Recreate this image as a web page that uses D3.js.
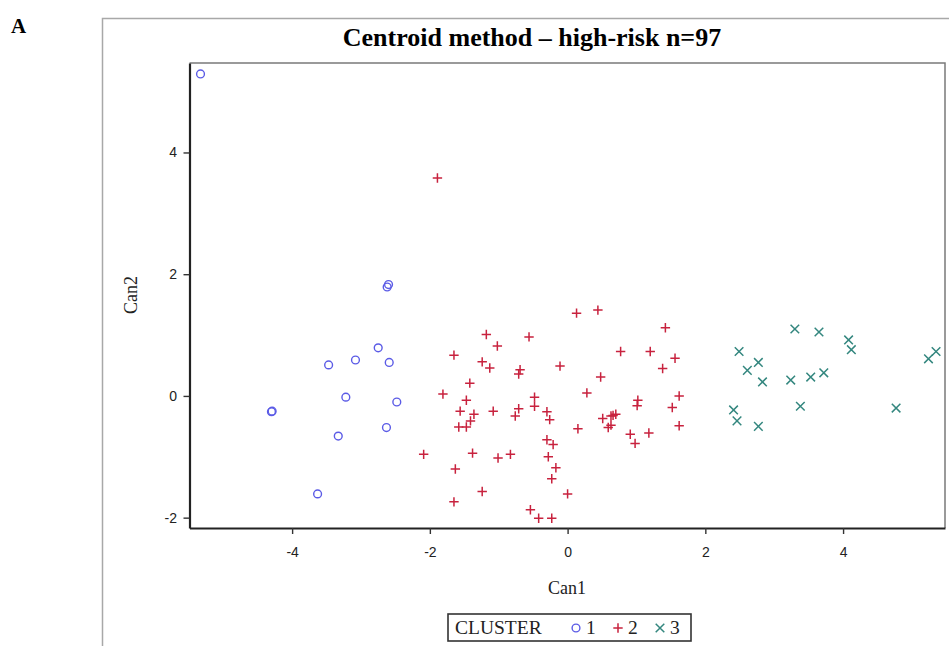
<!DOCTYPE html>
<html>
<head>
<meta charset="utf-8">
<script src="https://cdn.jsdelivr.net/npm/d3@7/dist/d3.min.js"></script>
<style>
  html, body { margin: 0; padding: 0; background: #fff; }
  svg { display: block; }
</style>
</head>
<body>
<svg id="chart" width="949" height="646"></svg>
<script>
// Canonical discriminant scores per cluster: [Can1, Can2]
const cluster1 = [
  [-5.33, 5.29], [-2.60, 1.83], [-2.62, 1.79], [-2.75, 0.79], [-3.08, 0.59],
  [-3.47, 0.51], [-2.59, 0.55], [-3.22, -0.02], [-2.48, -0.10], [-4.30, -0.26],
  [-4.29, -0.25], [-2.63, -0.52], [-3.33, -0.66], [-3.63, -1.61]
];
const cluster2 = [
  [-1.89, 3.58], [0.13, 1.36], [0.44, 1.41], [1.42, 1.12], [-1.18, 1.01],
  [-0.56, 0.97], [-1.02, 0.82], [-1.65, 0.67], [0.77, 0.73], [1.20, 0.73],
  [1.56, 0.62], [-1.24, 0.56], [-1.13, 0.46], [-0.69, 0.43], [-0.71, 0.36],
  [-0.11, 0.49], [1.38, 0.45], [0.48, 0.31], [-1.42, 0.21], [-1.81, 0.03],
  [-1.47, -0.07], [0.28, 0.05], [-0.48, -0.02], [1.02, -0.07], [1.01, -0.16],
  [1.62, 0.00], [-1.56, -0.25], [-1.36, -0.30], [-1.08, -0.25], [-0.71, -0.21],
  [-0.76, -0.33], [-0.48, -0.17], [-0.30, -0.26], [-0.26, -0.39], [-1.41, -0.41],
  [-1.58, -0.51], [-1.47, -0.51], [0.51, -0.37], [0.63, -0.33], [0.70, -0.30],
  [0.66, -0.32], [0.63, -0.48], [0.59, -0.52], [0.15, -0.54], [1.52, -0.19],
  [1.62, -0.49], [0.91, -0.63], [1.18, -0.61], [0.98, -0.78], [-0.30, -0.72],
  [-0.21, -0.80], [-2.09, -0.96], [-1.38, -0.94], [-1.01, -1.02], [-0.83, -0.96],
  [-0.28, -1.00], [-1.63, -1.20], [-0.17, -1.18], [-0.23, -1.36], [-1.24, -1.57],
  [-1.65, -1.74], [0.00, -1.61], [-0.54, -1.87], [-0.42, -2.01], [-0.23, -2.01]
];
const cluster3 = [
  [3.30, 1.10], [3.65, 1.05], [4.08, 0.92], [4.12, 0.76], [2.49, 0.73],
  [2.77, 0.55], [2.61, 0.42], [2.83, 0.23], [3.24, 0.26], [3.53, 0.31],
  [3.72, 0.38], [5.35, 0.73], [5.24, 0.61], [3.38, -0.17], [4.77, -0.20],
  [2.41, -0.23], [2.46, -0.41], [2.77, -0.50]
];
const clusterLabels = ["1", "2", "3"];
const xTicks = [-4, -2, 0, 2, 4];
const yTicks = [-2, 0, 2, 4];

const svg = d3.select("#chart");
const serif = "'Liberation Serif', 'Times New Roman', serif";
const sans = "'Liberation Sans', Arial, sans-serif";

const plot = { left: 189.5, right: 945, top: 63, bottom: 528 };
const x = d3.scaleLinear().domain([-5.49, 5.48]).range([plot.left, plot.right]);
const y = d3.scaleLinear().domain([-2.17, 5.47]).range([plot.bottom, plot.top]);

const colors = ["#5b5be6", "#c8223e", "#34877f"];

// Marker shapes: open circle, plus, cross
function drawMarker(g, kind, cx, cy) {
  if (kind === 0) {
    g.append("circle").attr("cx", cx).attr("cy", cy).attr("r", 3.9)
      .attr("fill", "none").attr("stroke", colors[0]).attr("stroke-width", 1.4);
  } else if (kind === 1) {
    const s = 4.7;
    g.append("path")
      .attr("d", `M${cx - s},${cy}H${cx + s}M${cx},${cy - s}V${cy + s}`)
      .attr("stroke", colors[1]).attr("stroke-width", 1.5).attr("fill", "none");
  } else {
    const s = 4.3;
    g.append("path")
      .attr("d", `M${cx - s},${cy - s}L${cx + s},${cy + s}M${cx - s},${cy + s}L${cx + s},${cy - s}`)
      .attr("stroke", colors[2]).attr("stroke-width", 1.5).attr("fill", "none");
  }
}

// Outer panel frame
svg.append("path")
  .attr("d", "M102.5,646V18.5H949")
  .attr("fill", "none").attr("stroke", "#a8a8a8").attr("stroke-width", 1.5);

// Panel letter
svg.append("text").attr("x", 11).attr("y", 33)
  .attr("font-family", serif).attr("font-weight", "bold").attr("font-size", 21)
  .attr("fill", "#000").text("A");

// Title
svg.append("text").attr("x", 532).attr("y", 46).attr("text-anchor", "middle")
  .attr("font-family", serif).attr("font-weight", "bold").attr("font-size", 26)
  .attr("fill", "#000").text("Centroid method \u2013 high-risk n=97");

// Plot frame (top and right edges)
svg.append("path")
  .attr("d", `M${plot.left},${plot.top}H${plot.right}V${plot.bottom}`)
  .attr("fill", "none").attr("stroke", "#7a7a7a").attr("stroke-width", 1.5);

// Axes
const xAxis = svg.append("g").attr("transform", `translate(0,${plot.bottom})`)
  .call(d3.axisBottom(x).tickValues(xTicks).tickSize(6).tickSizeOuter(0).tickFormat(d3.format("d")));
const yAxis = svg.append("g").attr("transform", `translate(${plot.left},0)`)
  .call(d3.axisLeft(y).tickValues(yTicks).tickSize(6).tickSizeOuter(0).tickFormat(d3.format("d")));

[xAxis, yAxis].forEach(a => {
  a.select(".domain").attr("stroke", "#222").attr("stroke-width", 2.2);
  a.selectAll(".tick line").attr("stroke", "#333").attr("stroke-width", 1.4);
  a.selectAll(".tick text").attr("font-family", sans).attr("font-size", 14)
    .attr("fill", "#222");
});
xAxis.selectAll(".tick text").attr("dy", "1.4em");
yAxis.selectAll(".tick text").attr("dx", "-0.25em");
// minus signs rendered as hyphens
svg.selectAll(".tick text").text(function () { return this.textContent.replace("\u2212", "-"); });

// Axis titles
svg.append("text").attr("x", 567).attr("y", 594).attr("text-anchor", "middle")
  .attr("font-family", serif).attr("font-size", 18).attr("fill", "#222").text("Can1");
svg.append("text").attr("transform", "translate(137,295) rotate(-90)")
  .attr("text-anchor", "middle")
  .attr("font-family", serif).attr("font-size", 18).attr("fill", "#222").text("Can2");

// Points
const pts = svg.append("g");
[cluster1, cluster2, cluster3].forEach((data, k) => {
  data.forEach(d => drawMarker(pts, k, x(d[0]), y(d[1])));
});

// Legend
const leg = svg.append("g");
leg.append("rect").attr("x", 448).attr("y", 614).attr("width", 243).attr("height", 27)
  .attr("fill", "#fff").attr("stroke", "#333").attr("stroke-width", 1.6);
leg.append("text").attr("x", 455).attr("y", 634)
  .attr("font-family", serif).attr("font-size", 19.5).attr("fill", "#222").text("CLUSTER");
const legX = [576, 618, 660];
clusterLabels.forEach((lab, k) => {
  drawMarker(leg, k, legX[k], 628);
  leg.append("text").attr("x", legX[k] + 10).attr("y", 634)
    .attr("font-family", serif).attr("font-size", 19.5).attr("fill", "#222").text(lab);
});
</script>
</body>
</html>
